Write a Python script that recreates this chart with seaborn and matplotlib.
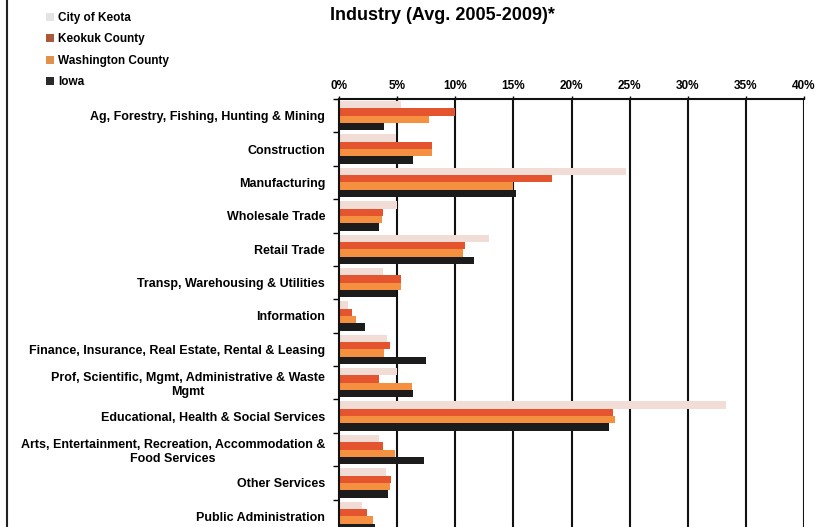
import matplotlib
matplotlib.use("Agg")
import matplotlib.pyplot as plt
from matplotlib.lines import Line2D
from matplotlib.patches import Patch
from matplotlib.ticker import FuncFormatter, FixedLocator
import numpy as np
import pandas as pd
import seaborn as sns

# Share of employment by industry, percent (average 2005-2009)
industries = [
    "Ag, Forestry, Fishing, Hunting & Mining",
    "Construction",
    "Manufacturing",
    "Wholesale Trade",
    "Retail Trade",
    "Transp, Warehousing & Utilities",
    "Information",
    "Finance, Insurance, Real Estate, Rental & Leasing",
    "Prof, Scientific, Mgmt, Administrative & Waste\nMgmt",
    "Educational, Health & Social Services",
    "Arts, Entertainment, Recreation, Accommodation &\nFood Services",
    "Other Services",
    "Public Administration",
]
areas = ["City of Keota", "Keokuk County", "Washington County", "Iowa"]

keota = [5.3, 4.9, 24.7, 5.0, 12.9, 3.8, 0.8, 4.1, 5.0, 33.3, 3.4, 4.0, 2.0]
keokuk = [10.0, 8.0, 18.3, 3.8, 10.8, 5.3, 1.1, 4.4, 3.4, 23.6, 3.8, 4.5, 2.4]
washington = [7.7, 8.0, 15.0, 3.7, 10.7, 5.3, 1.5, 3.9, 6.3, 23.7, 4.8, 4.4, 2.9]
iowa = [3.9, 6.4, 15.2, 3.4, 11.6, 4.9, 2.2, 7.5, 6.4, 23.2, 7.3, 4.2, 3.1]

pct_ticks = [0, 5, 10, 15, 20, 25, 30, 35, 40]

colors = ["#f2dcd6", "#e4552f", "#f4903f", "#1c1c1c"]
legend_colors = ["#e4e4e4", "#a9583c", "#e0924c", "#2a2a2a"]

series = [keota, keokuk, washington, iowa]
df = pd.DataFrame({
    "industry": industries * len(areas),
    "area": np.repeat(areas, len(industries)),
    "share": np.concatenate(series),
})

plt.rcParams["font.family"] = ["Liberation Sans", "DejaVu Sans"]

fig = plt.figure(figsize=(8.16, 5.27), dpi=100)
ax = fig.add_axes([339 / 816, -6 / 527, 465 / 816, 434 / 527])

sns.barplot(
    data=df, y="industry", x="share", hue="area", order=industries,
    hue_order=areas, palette=colors, orient="h", width=0.88,
    saturation=1, ax=ax, legend=False, linewidth=0, errorbar=None,
)

ax.set_xlim(0, 40)
ax.set_ylim(len(industries) - 0.5, -0.5)
ax.set_xlabel("")
ax.set_ylabel("")

# percent axis along the top, with solid vertical gridlines
ax.xaxis.set_major_locator(FixedLocator(pct_ticks))
ax.xaxis.set_major_formatter(FuncFormatter(lambda v, p: f"{v:.0f}%"))
ax.xaxis.tick_top()
ax.tick_params(axis="x", which="major", length=2, width=1, pad=3,
               labelsize=8.5, direction="out")
for lbl in ax.get_xticklabels():
    lbl.set_fontweight("bold")
for v in pct_ticks[1:]:
    ax.axvline(v, color="#111111", lw=1.5, zorder=0)

# category labels, with small ticks between groups
ax.tick_params(axis="y", which="major", length=0, pad=10, labelsize=9)
ax.yaxis.set_minor_locator(FixedLocator(np.arange(-0.5, len(industries), 1)))
ax.tick_params(axis="y", which="minor", length=4, width=1, direction="out")
for lbl in ax.get_yticklabels():
    lbl.set_multialignment("center")
    lbl.set_fontweight("semibold")

for side in ["bottom", "right"]:
    ax.spines[side].set_visible(False)
for side in ["left", "top"]:
    ax.spines[side].set_linewidth(1.5)
    ax.spines[side].set_color("#111111")

fig.text(442 / 816, 1 - 15 / 527, "Industry (Avg. 2005-2009)*",
         ha="center", va="center", fontsize=13, fontweight="bold")

handles = [Patch(facecolor=c, edgecolor="none") for c in legend_colors]
fig.legend(handles, areas, loc="upper left",
           bbox_to_anchor=(46 / 816, 1 - 12 / 527), frameon=False,
           prop={"size": 8.5, "weight": "bold"}, handlelength=0.7,
           handleheight=0.7, handletextpad=0.35, labelspacing=0.8,
           borderpad=0, borderaxespad=0)

# left frame edge
fig.add_artist(Line2D([7 / 816, 7 / 816], [0, 1], color="#222222", lw=1.5,
                      transform=fig.transFigure))

fig.savefig("out.png", dpi=100, facecolor="white")
